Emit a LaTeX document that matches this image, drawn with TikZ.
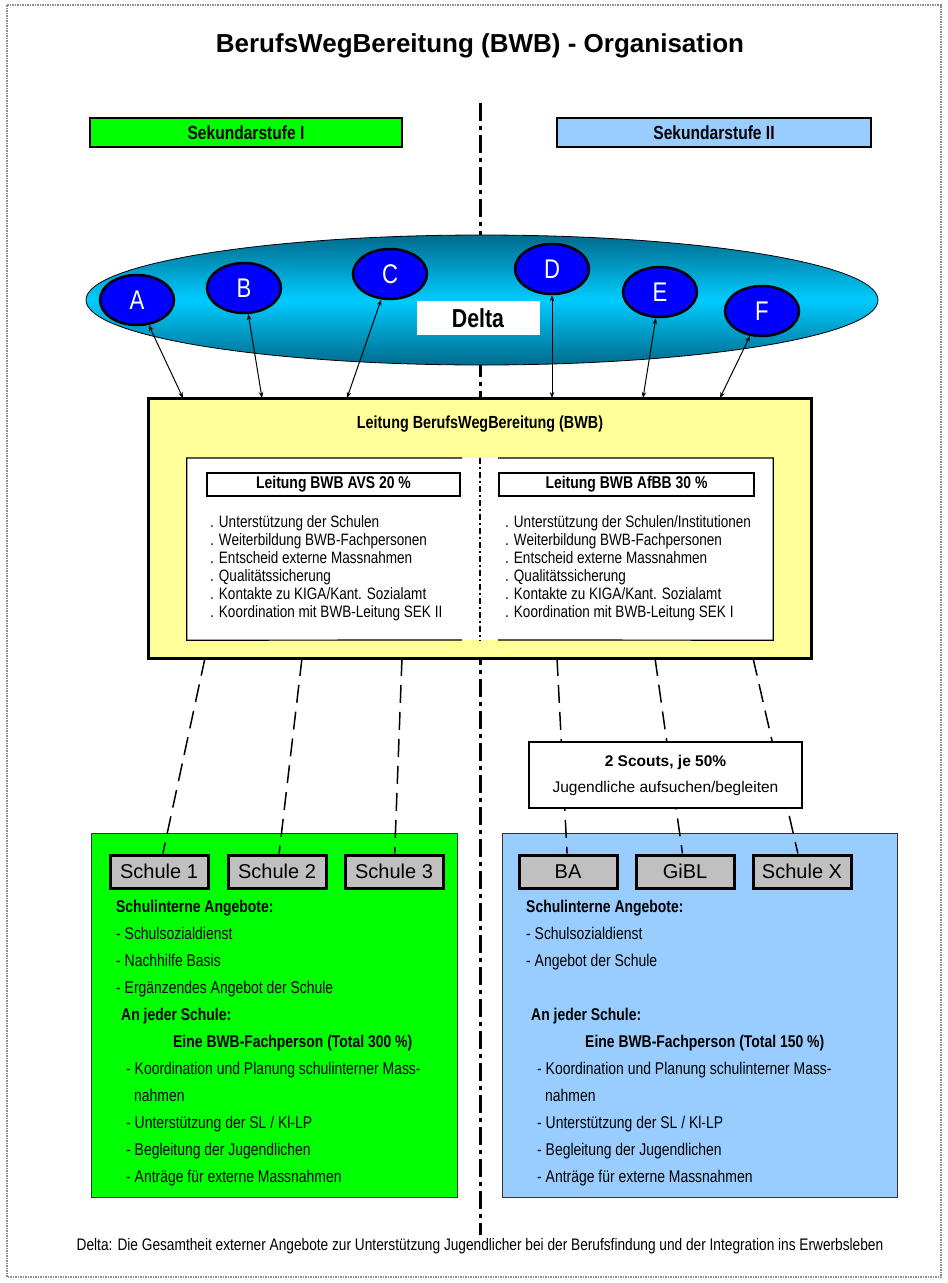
\documentclass[tikz,border=0pt]{standalone}
\usepackage{fontspec}
\setmainfont{Liberation Sans}
\newfontfamily\narrowfont[FakeStretch=0.82]{Liberation Sans}
\usetikzlibrary{arrows.meta,shapes.geometric}
\definecolor{sgreen}{HTML}{00FF00}
\definecolor{sblue}{HTML}{99CCFF}
\definecolor{lyellow}{HTML}{FFFF99}
\definecolor{sgrey}{HTML}{C0C0C0}
\definecolor{bblue}{HTML}{0000FF}
\definecolor{ddark}{HTML}{006A8C}
\definecolor{dlight}{HTML}{00CCFF}
\definecolor{fgrey}{HTML}{8C8C8C}

\begin{document}
\begin{tikzpicture}[x=1pt,y=-1pt,
  sekbox/.style={draw,line width=1.2pt,minimum width=312pt,minimum height=29pt,inner sep=0pt,
                 font=\narrowfont\bfseries\fontsize{19}{22}\selectfont},
  bubble/.style={ellipse,draw,line width=2.5pt,fill=bblue,text=white,minimum width=74pt,
                 minimum height=50pt,inner sep=0pt,font=\narrowfont\fontsize{27}{27}\selectfont},
  hdr/.style={draw,fill=white,line width=1.5pt,minimum height=23pt,inner sep=0pt,
              font=\narrowfont\bfseries\fontsize{17}{20}\selectfont},
  lst/.style={anchor=north west,align=left,inner sep=0pt,font=\narrowfont\fontsize{16.5}{18}\selectfont},
  school/.style={draw,line width=3pt,fill=sgrey,minimum width=98pt,minimum height=33pt,inner sep=0pt,
                 font=\fontsize{20}{20}\selectfont},
  panel/.style={draw=black!80,line width=1pt,minimum height=364pt},
  ptxt/.style={anchor=north west,align=left,inner sep=0pt,font=\narrowfont\fontsize{17}{27}\selectfont},
  arr/.style={{Stealth[length=6pt,width=4.5pt]}-{Stealth[length=6pt,width=4.5pt]},line width=1pt},
  link/.style={line width=1.5pt,dash pattern=on 18pt off 9pt}]
  \useasboundingbox (0,0) rectangle (948,1283);
  \draw[fgrey,line width=1.5pt,densely dotted] (7,5) rectangle (941,1277);
  % dividing line between Sek I and Sek II
  \coordinate (mtop) at (480,103); \coordinate (mbot) at (480,1235);
  \draw[line width=3pt,dash pattern=on 18pt off 5pt on 4pt off 5pt] (mtop) -- (mbot);

  \node[font=\bfseries\fontsize{26}{26}\selectfont] (title) at (480,46) {BerufsWegBereitung (BWB) - Organisation};
  \node[sekbox,fill=sgreen] (sek1) at (246,132.5) {Sekundarstufe I};
  \node[sekbox,fill=sblue,minimum width=314pt] (sek2) at (714,132.5) {Sekundarstufe II};

  % Delta
  \node[ellipse,draw,line width=0.8pt,minimum width=792pt,minimum height=130pt,
        top color=ddark,bottom color=ddark,middle color=dlight] (delta) at (482,300) {};
  \node[bubble] (A) at (137,300) {A};
  \node[bubble] (B) at (244,288) {B};
  \node[bubble] (C) at (390,274) {C};
  \node[bubble] (D) at (552,269) {D};
  \node[bubble] (E) at (660,292) {E};
  \node[bubble] (F) at (762,311) {F};
  \node[fill=white,minimum width=123pt,minimum height=34pt,inner sep=0pt,
        font=\narrowfont\bfseries\fontsize{26}{26}\selectfont] (dlab) at (478,318) {Delta};

  % Leitung
  \node[draw,line width=3pt,fill=lyellow,minimum width=663pt,minimum height=260pt] (lead) at (479.5,528) {};
  \node[font=\narrowfont\bfseries\fontsize{17.5}{20}\selectfont] (leadt) at (480,424) {Leitung BerufsWegBereitung (BWB)};
  \node[fill=white,minimum width=586pt,minimum height=182pt] (inner) at (480,549) {};
  \draw[line width=1.2pt] (462,458) -| (inner.south west) -- (462,640);
  \draw[line width=1.2pt] (498,458) -| (inner.south east) -- (498,640);
  \draw[line width=1.2pt,dash pattern=on 6pt off 3pt on 2pt off 3pt] (inner.north) -- (inner.south);
  \node[hdr,minimum width=253pt] (havs) at (333.5,484.5) {Leitung BWB AVS 20 \%};
  \node[hdr,minimum width=255pt] (hafbb) at (626.5,484.5) {Leitung BWB AfBB 30 \%};
  \node[lst] (lavs) at (210,515) {. Unterstützung der Schulen\\. Weiterbildung BWB-Fachpersonen\\
    . Entscheid externe Massnahmen\\. Qualitätssicherung\\. Kontakte zu KIGA/Kant. Sozialamt\\
    . Koordination mit BWB-Leitung SEK II};
  \node[lst] (lafbb) at (505,515) {. Unterstützung der Schulen/Institutionen\\. Weiterbildung BWB-Fachpersonen\\
    . Entscheid externe Massnahmen\\. Qualitätssicherung\\. Kontakte zu KIGA/Kant. Sozialamt\\
    . Koordination mit BWB-Leitung SEK I};

  \coordinate (pa) at (183,398); \coordinate (pb) at (262,398); \coordinate (pc) at (347,398);
  \coordinate (pd) at (552,398); \coordinate (pe) at (643,398); \coordinate (pf) at (720,398);
  \draw[arr] (A) -- (pa); \draw[arr] (B) -- (pb); \draw[arr] (C) -- (pc);
  \draw[arr] (D) -- (pd); \draw[arr] (E) -- (pe); \draw[arr] (F) -- (pf);

  % Schulen
  \node[panel,fill=sgreen,minimum width=366pt] (pgr) at (274,1015) {};
  \node[panel,fill=sblue,minimum width=395pt] (pbl) at (699.5,1015) {};
  \coordinate (qa) at (205,658); \coordinate (qb) at (302,658); \coordinate (qc) at (402,658);
  \coordinate (qd) at (557,658); \coordinate (qe) at (655,658); \coordinate (qf) at (753,658);
  \node[school] (s1) at (159,871.5) {Schule 1};
  \node[school] (s2) at (277,871.5) {Schule 2};
  \node[school] (s3) at (394,871.5) {Schule 3};
  \node[school] (ba) at (568,871.5) {BA};
  \node[school] (gibl) at (685,871.5) {GiBL};
  \node[school] (sx) at (802,871.5) {Schule X};
  \draw[link] (qa) -- (s1); \draw[link] (qb) -- (s2); \draw[link] (qc) -- (s3);
  \draw[link] (qd) -- (ba); \draw[link] (qe) -- (gibl); \draw[link] (qf) -- (sx);
  \node[draw,line width=2.5pt,fill=white,minimum width=273pt,minimum height=66pt,align=center,
        font=\fontsize{15.5}{26}\selectfont] (scouts) at (665.5,775)
        {\textbf{2 Scouts, je 50\%}\\Jugendliche aufsuchen/begleiten};

  \node[ptxt] (tgr) at (116,900) {\textbf{Schulinterne Angebote:}\\
    - Schulsozialdienst\\
    - Nachhilfe Basis\\
    - Ergänzendes Angebot der Schule\\
    \hspace*{5pt}\textbf{An jeder Schule:}\\
    \hspace*{57pt}\textbf{Eine BWB-Fachperson (Total 300 \%)}\\
    \hspace*{10pt}- Koordination und Planung schulinterner Mass-\\
    \hspace*{18pt}nahmen\\
    \hspace*{10pt}- Unterstützung der SL / Kl-LP\\
    \hspace*{10pt}- Begleitung der Jugendlichen\\
    \hspace*{10pt}- Anträge für externe Massnahmen};
  \node[ptxt] (tbl) at (526,900) {\textbf{Schulinterne Angebote:}\\
    - Schulsozialdienst\\
    - Angebot der Schule\\[27pt]
    \hspace*{5pt}\textbf{An jeder Schule:}\\
    \hspace*{59pt}\textbf{Eine BWB-Fachperson (Total 150 \%)}\\
    \hspace*{11pt}- Koordination und Planung schulinterner Mass-\\
    \hspace*{19pt}nahmen\\
    \hspace*{11pt}- Unterstützung der SL / Kl-LP\\
    \hspace*{11pt}- Begleitung der Jugendlichen\\
    \hspace*{11pt}- Anträge für externe Massnahmen};

  \node[font=\narrowfont\fontsize{16.7}{16.7}\selectfont] (foot) at (480,1246)
    {Delta: Die Gesamtheit externer Angebote zur Unterstützung Jugendlicher bei der Berufsfindung und der Integration ins Erwerbsleben};
\end{tikzpicture}
\end{document}
